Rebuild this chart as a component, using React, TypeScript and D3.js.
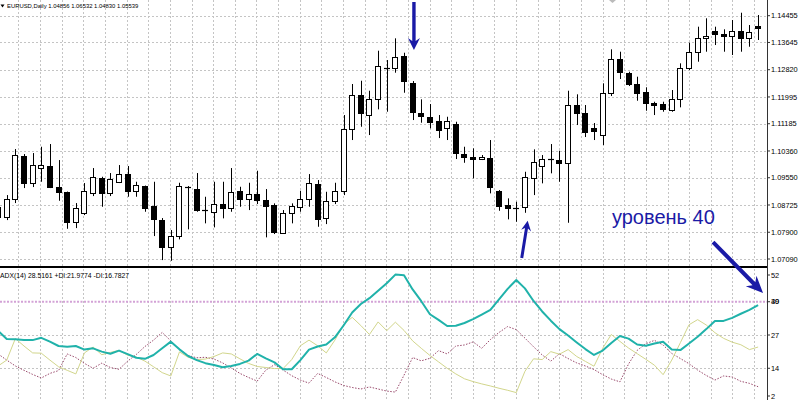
import React from "react";
import * as d3 from "d3";

// EURUSD daily candles (oldest → newest)
const opens = [
  1.08359, 1.08359, 1.08904, 1.10215, 1.09389, 1.09843, 1.09904, 1.09277, 1.09107, 1.08217,
  1.08489, 1.09095, 1.0954, 1.09086, 1.09428, 1.09661, 1.09156, 1.09298, 1.08692, 1.08268,
  1.07442, 1.07784, 1.09259, 1.09207, 1.08571, 1.0852, 1.08753, 1.08623, 1.09147, 1.08895,
  1.09047, 1.08874, 1.08723, 1.07884, 1.08471, 1.08671, 1.08895, 1.09359, 1.0832, 1.08844,
  1.09147, 1.11024, 1.12053, 1.11448, 1.11923, 1.1288, 1.1288, 1.13234, 1.12408, 1.11517,
  1.11396, 1.11266, 1.11045, 1.11175, 1.10267, 1.10167, 1.10106, 1.10155, 1.09147, 1.08714,
  1.08641, 1.08653, 1.09531, 1.09904, 1.10106, 1.10085, 1.09985, 1.11751, 1.11499, 1.11063,
  1.10842, 1.12123, 1.13134, 1.12711, 1.12377, 1.12153, 1.11802, 1.11772, 1.11599, 1.11932,
  1.1288, 1.13365, 1.1377, 1.13991, 1.13891, 1.1384, 1.13991, 1.1377, 1.14143,
];
const highs = [
  1.08874, 1.09025, 1.10418, 1.10267, 1.10297, 1.10488, 1.1057, 1.10085, 1.09131, 1.08783,
  1.09389, 1.09843, 1.0958, 1.09692, 1.09934, 1.09904, 1.09428, 1.09313, 1.09428, 1.08329,
  1.07966, 1.09398, 1.09298, 1.09692, 1.08974, 1.09428, 1.09428, 1.09843, 1.09277, 1.09398,
  1.09761, 1.09207, 1.08774, 1.08571, 1.08774, 1.09156, 1.09661, 1.0948, 1.09125, 1.09398,
  1.11448, 1.12387, 1.12486, 1.12184, 1.13395, 1.13113, 1.1377, 1.13334, 1.12477, 1.11923,
  1.11781, 1.11448, 1.11396, 1.11245, 1.10488, 1.1044, 1.10237, 1.10691, 1.09177, 1.08926,
  1.08823, 1.09731, 1.10409, 1.10237, 1.1057, 1.10367, 1.12184, 1.12075, 1.11751, 1.11206,
  1.12408, 1.13437, 1.13365, 1.12759, 1.12608, 1.12287, 1.11851, 1.11851, 1.12205, 1.13013,
  1.13637, 1.14122, 1.14376, 1.14122, 1.14043, 1.14324, 1.14545, 1.14173, 1.14476,
];
const lows = [
  1.08208, 1.08268, 1.08783, 1.09237, 1.09268, 1.09428, 1.09237, 1.08853, 1.08005, 1.08026,
  1.0842, 1.08995, 1.08671, 1.08995, 1.09389, 1.08974, 1.08974, 1.0852, 1.07784, 1.07057,
  1.07036, 1.07684, 1.07987, 1.0852, 1.08169, 1.08047, 1.0832, 1.0852, 1.08671, 1.08571,
  1.08753, 1.07745, 1.07845, 1.07866, 1.08169, 1.0852, 1.08671, 1.08066, 1.08147, 1.08753,
  1.09025, 1.10691, 1.11094, 1.10842, 1.1162, 1.11548, 1.12729, 1.12123, 1.11296, 1.11215,
  1.11045, 1.10751, 1.10691, 1.10116, 1.10003, 1.09531, 1.10085, 1.09077, 1.0855, 1.0829,
  1.08217, 1.08489, 1.09025, 1.0938, 1.09683, 1.09428, 1.08187, 1.11145, 1.10782, 1.10691,
  1.10539, 1.12023, 1.12538, 1.12326, 1.11881, 1.11578, 1.11448, 1.11548, 1.11548, 1.11681,
  1.1281, 1.13062, 1.13365, 1.13567, 1.13365, 1.13265, 1.13365, 1.13516, 1.13719,
];
const closes = [
  1.08662, 1.08904, 1.10237, 1.09398, 1.09934, 1.09934, 1.09277, 1.09107, 1.08217, 1.08632,
  1.09147, 1.0957, 1.09086, 1.0951, 1.09661, 1.09156, 1.09328, 1.08623, 1.0829, 1.07442,
  1.07784, 1.09298, 1.09262, 1.08571, 1.08565, 1.08753, 1.08623, 1.09107, 1.08895, 1.09047,
  1.08874, 1.08692, 1.07914, 1.08471, 1.08692, 1.08904, 1.0938, 1.0829, 1.08853, 1.09156,
  1.11039, 1.12053, 1.11517, 1.11923, 1.12932, 1.12877, 1.13213, 1.12477, 1.1153, 1.11418,
  1.11245, 1.10994, 1.11275, 1.10288, 1.10185, 1.10106, 1.10167, 1.09277, 1.08692, 1.08641,
  1.08644, 1.09561, 1.10034, 1.10106, 1.10103, 1.09985, 1.11751, 1.11499, 1.10933, 1.10963,
  1.12105, 1.13134, 1.12759, 1.12377, 1.12123, 1.11802, 1.11751, 1.1163, 1.11932, 1.1288,
  1.13365, 1.1377, 1.1384, 1.13891, 1.1384, 1.13991, 1.1377, 1.13952, 1.14073,
];

// ADX(14) with its directional lines
const adx = [
  28.6, 25.4, 25.3, 25.0, 25.0, 25.9, 24.4, 22.7, 22.4, 22.7,
  21.3, 21.8, 20.5, 19.7, 20.9, 19.5, 18.1, 17.7, 19.2, 21.8,
  24.4, 21.4, 18.8, 17.2, 16.0, 15.3, 14.4, 14.9, 15.7, 17.0,
  19.6, 17.9, 16.3, 13.6, 13.6, 17.2, 21.3, 22.5, 23.3, 26.1,
  30.7, 35.8, 39.1, 41.4, 44.3, 47.2, 50.6, 50.3, 44.8, 40.2,
  35.1, 32.9, 30.5, 30.6, 31.7, 33.2, 35.0, 36.8, 40.9, 45.0,
  48.5, 45.2, 40.3, 36.2, 32.6, 29.3, 26.8, 24.1, 21.5, 19.2,
  20.9, 23.9, 26.6, 25.6, 23.3, 22.8, 23.7, 24.4, 21.3, 21.1,
  23.7, 26.3, 29.3, 32.5, 32.5, 33.7, 35.3, 36.8, 38.7,
];
const plusDi = [
  14.9, 17.2, 25.6, 22.7, 20.0, 19.9, 17.2, 14.6, 13.2, 11.8,
  20.0, 22.3, 19.3, 20.2, 21.0, 19.1, 18.4, 16.8, 14.6, 12.3,
  11.0, 20.4, 18.3, 17.4, 17.6, 18.6, 20.0, 19.6, 17.7, 15.9,
  14.7, 14.3, 13.9, 13.9, 17.4, 22.8, 25.0, 22.8, 20.0, 25.0,
  31.1, 33.9, 30.7, 27.2, 32.1, 28.7, 32.0, 28.8, 24.7, 21.8,
  19.0, 16.5, 14.0, 11.8, 9.9, 8.8, 7.9, 7.1, 6.2, 5.4,
  4.5, 12.8, 17.7, 17.4, 20.5, 19.5, 21.3, 18.6, 16.7, 14.8,
  21.8, 27.2, 24.5, 21.9, 19.7, 17.5, 15.2, 11.5, 17.2, 24.0,
  31.0, 33.0, 30.9, 27.9, 25.7, 24.2, 23.2, 21.3, 22.3,
];
const minusDi = [
  19.6, 17.2, 14.9, 13.2, 11.6, 10.2, 12.0, 13.1, 19.6, 18.2,
  15.9, 14.0, 16.0, 14.3, 13.6, 16.8, 19.4, 22.5, 25.0, 28.0,
  24.7, 21.3, 19.0, 18.1, 18.3, 17.6, 16.1, 14.1, 12.0, 10.4,
  9.0, 13.3, 15.4, 13.3, 11.1, 9.4, 8.2, 12.0, 10.4, 8.7,
  7.3, 6.5, 5.9, 6.7, 5.9, 5.1, 4.7, 11.3, 18.2, 16.9,
  17.9, 20.9, 19.6, 22.7, 23.1, 24.3, 21.8, 25.2, 28.0, 30.3,
  29.1, 25.8, 22.4, 19.2, 16.8, 19.7, 17.8, 16.1, 14.9, 13.5,
  11.5, 9.8, 8.7, 15.7, 21.0, 23.6, 24.9, 23.1, 19.8, 17.8,
  15.8, 13.3, 11.2, 9.4, 11.0, 10.6, 8.9, 8.1, 6.8,
];

const priceTicks = [1.14455, 1.13645, 1.1282, 1.11995, 1.11185, 1.1036, 1.0955, 1.08725, 1.079, 1.0709];
const indicatorTicks = [52, 27, 14, 2];
const indicatorLevel = 40;

const chartTitle = "EURUSD,Daily  1.04856 1.06532 1.04830 1.05539";
const indicatorTitle = "ADX(14) 28.5161 +DI:21.9774 -DI:16.7827";
const noteText = "уровень 40";

// annotation anchors: [candle index, price] or [candle index, indicator value]
const topArrowFrom: [number, number] = [48.15, 1.1487];
const topArrowTo: [number, number] = [48.15, 1.1342];
const lowArrowFrom: [number, number] = [60.63, 1.07118];
const lowArrowTo: [number, number] = [61.32, 1.08247];
const levelArrowFrom: [number, number] = [82.78, 1.07602];
const levelArrowTo: [number, number] = [88.57, 43.4];
const noteAnchor: [number, number] = [71.08, 1.08162];

const FONT = "'Liberation Sans', Arial, sans-serif";
const AXIS_X = 767;
const SEP_Y = 267;
const BLUE = "#1a1aa6";
const GRID = "#c4c4c4";

function arrowPath(
  x1: number, y1: number, x2: number, y2: number,
  shaft: number, headLen: number, headW: number, notch: number
) {
  const dx = x2 - x1, dy = y2 - y1;
  const len = Math.hypot(dx, dy);
  const ux = dx / len, uy = dy / len;
  const px = -uy, py = ux;
  const bx = x2 - ux * headLen, by = y2 - uy * headLen;
  const nx = bx + ux * notch, ny = by + uy * notch;
  const pts = [
    [x1 + (px * shaft) / 2, y1 + (py * shaft) / 2],
    [nx + (px * shaft) / 2, ny + (py * shaft) / 2],
    [bx + (px * headW) / 2, by + (py * headW) / 2],
    [x2, y2],
    [bx - (px * headW) / 2, by - (py * headW) / 2],
    [nx - (px * shaft) / 2, ny - (py * shaft) / 2],
    [x1 - (px * shaft) / 2, y1 - (py * shaft) / 2],
  ];
  return "M" + pts.map((p) => `${p[0].toFixed(2)},${p[1].toFixed(2)}`).join("L") + "Z";
}

export default function App() {
  const n = opens.length;
  const x = d3.scaleLinear().domain([0, n - 1]).range([-1.9, 758.1]);
  const yPrice = d3.scaleLinear().domain([1.0709, 1.14455]).range([259, 15.7]);
  const yInd = d3.scaleLinear().domain([2, 52]).range([399, 271]);

  const gridXs = d3.range(0, 35).map((k) => x(2.36 + 2.505 * k)).filter((v) => v < AXIS_X);

  const line = d3
    .line<number>()
    .x((_, i) => x(i))
    .y((v) => yInd(v));

  const candles = d3.range(n).map((i) => {
    const cx = Math.round(x(i));
    const o = yPrice(opens[i]);
    const c = yPrice(closes[i]);
    const hi = yPrice(highs[i]);
    const lo = yPrice(lows[i]);
    const up = closes[i] >= opens[i];
    const top = Math.round(Math.min(o, c));
    const bot = Math.round(Math.max(o, c));
    const flat = bot - top < 1.5;
    return (
      <g key={i}>
        <line x1={cx + 0.5} x2={cx + 0.5} y1={hi} y2={lo} stroke="#000" strokeWidth={1} />
        {flat ? (
          <line x1={cx - 3} x2={cx + 3} y1={top + 0.5} y2={top + 0.5} stroke="#000" strokeWidth={1.2} />
        ) : (
          <rect
            x={cx - 2.5}
            y={top + 0.5}
            width={5}
            height={bot - top}
            fill={up ? "#fff" : "#000"}
            stroke="#000"
            strokeWidth={1}
          />
        )}
      </g>
    );
  });

  const currentAdx = Math.round(adx[n - 1]);

  return (
    <svg
      width={800}
      height={400}
      style={{ position: "absolute", left: 0, top: 0, background: "#fff" }}
      fontFamily={FONT}
    >
      <rect x={0} y={0} width={800} height={400} fill="#fff" />

      {/* grid */}
      <g stroke={GRID} strokeWidth={1} strokeDasharray="2,2" shapeRendering="crispEdges">
        {gridXs.map((gx, k) => (
          <g key={k}>
            <line x1={Math.round(gx) + 0.5} x2={Math.round(gx) + 0.5} y1={0} y2={SEP_Y - 1} />
            <line x1={Math.round(gx) + 0.5} x2={Math.round(gx) + 0.5} y1={SEP_Y + 2} y2={400} />
          </g>
        ))}
        {priceTicks.map((t) => (
          <line key={t} x1={0} x2={AXIS_X} y1={Math.round(yPrice(t)) + 0.5} y2={Math.round(yPrice(t)) + 0.5} />
        ))}
        {indicatorTicks
          .filter((t) => t !== 52 && t !== 2)
          .map((t) => (
            <line key={t} x1={0} x2={AXIS_X} y1={Math.round(yInd(t)) + 0.5} y2={Math.round(yInd(t)) + 0.5} />
          ))}
      </g>

      {/* chart header */}
      <path d="M0.5,4.5 L4.5,4.5 L2.5,7.5 Z" fill="#000" />
      <text x={7} y={8.3} fontSize={5.9} fill="#000">
        {chartTitle}
      </text>
      <path d="M609,0 L616,0 L612.5,3 Z" fill="#bbb" />

      {/* candles */}
      <g>{candles}</g>

      {/* panel separator */}
      <line x1={0} x2={AXIS_X} y1={SEP_Y} y2={SEP_Y} stroke="#000" strokeWidth={2} />

      {/* indicator panel */}
      <line
        x1={0}
        x2={AXIS_X}
        y1={yInd(indicatorLevel)}
        y2={yInd(indicatorLevel)}
        stroke="#d3a2d6"
        strokeWidth={2}
        strokeDasharray="2,1.5"
      />
      <path d={line(minusDi) || ""} fill="none" stroke="#9a4a6c" strokeWidth={1} strokeDasharray="1.5,1.5" />
      <path d={line(plusDi) || ""} fill="none" stroke="#d2d68c" strokeWidth={1} />
      <path d={line(adx) || ""} fill="none" stroke="#20b2aa" strokeWidth={2} strokeLinejoin="round" />
      <text x={0} y={278} fontSize={6.8} fill="#000">
        {indicatorTitle}
      </text>

      {/* right axis */}
      <line x1={AXIS_X + 0.5} x2={AXIS_X + 0.5} y1={0} y2={400} stroke="#333" strokeWidth={1} />
      <g fontSize={7.4} fill="#000">
        {priceTicks.map((t) => {
          const ty = yPrice(t);
          return (
            <g key={t}>
              <line x1={AXIS_X} x2={AXIS_X + 3} y1={ty} y2={ty} stroke="#333" />
              <text x={771} y={ty} dy="0.35em">
                {t.toFixed(5)}
              </text>
            </g>
          );
        })}
        {indicatorTicks.map((t) => {
          const ty = Math.min(396, Math.max(275, yInd(t)));
          return (
            <g key={t}>
              <line x1={AXIS_X} x2={AXIS_X + 3} y1={ty} y2={ty} stroke="#333" />
              <text x={771} y={ty} dy="0.35em">
                {t}
              </text>
            </g>
          );
        })}
        <line x1={AXIS_X} x2={AXIS_X + 3} y1={yInd(indicatorLevel)} y2={yInd(indicatorLevel)} stroke="#333" />
        <text x={771} y={yInd(indicatorLevel)} dy="0.35em">
          {indicatorLevel}
        </text>
        <text x={771} y={yInd(indicatorLevel)} dy="0.35em">
          {currentAdx}
        </text>
      </g>

      {/* annotations */}
      <g fill={BLUE}>
        <path
          d={arrowPath(
            x(topArrowFrom[0]), yPrice(topArrowFrom[1]),
            x(topArrowTo[0]), yPrice(topArrowTo[1]),
            3.4, 12, 12, 3
          )}
        />
        <path
          d={arrowPath(
            x(lowArrowFrom[0]), yPrice(lowArrowFrom[1]),
            x(lowArrowTo[0]), yPrice(lowArrowTo[1]),
            3, 10, 10, 2.5
          )}
        />
        <path
          d={arrowPath(
            x(levelArrowFrom[0]), yPrice(levelArrowFrom[1]),
            x(levelArrowTo[0]), yInd(levelArrowTo[1]),
            4, 17, 15, 4
          )}
        />
        <text x={x(noteAnchor[0])} y={yPrice(noteAnchor[1])} fontSize={20} fontFamily={FONT}>
          {noteText}
        </text>
      </g>
    </svg>
  );
}
